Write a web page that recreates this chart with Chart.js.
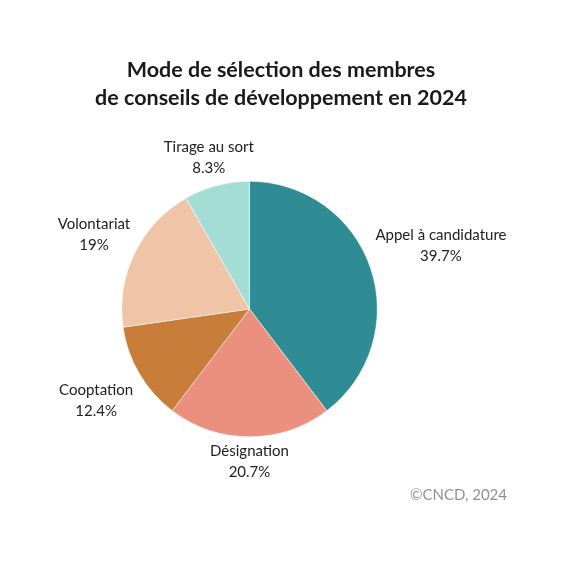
<!DOCTYPE html>
<html>
<head>
<meta charset="utf-8">
<script src="https://cdn.jsdelivr.net/npm/chart.js@4"></script>
<style>
    html, body { margin: 0; padding: 0; background: #ffffff; }
    #wrap { width: 563px; height: 563px; }
</style>
</head>
<body>
<div id="wrap"><canvas id="pieChart" width="563" height="563"></canvas></div>
<script>
const labels = ["Appel à candidature", "Désignation", "Cooptation", "Volontariat", "Tirage au sort"];
const percents = [39.7, 20.7, 12.4, 19, 8.3];
const colors = ["#308c94", "#eb8f7e", "#c97d3a", "#f0c5a7", "#a3ddd6"];
const titleLines = ["Mode de sélection des membres", "de conseils de développement en 2024"];
const sourceText = "©CNCD, 2024";

// distance from the pie centre to each label centre
const labelDistance = [202, 151, 178, 173, 158];

/**
 *
 */
const textPlugin = {
    id: "textPlugin",
    afterDraw(chart) {
        const ctx = chart.ctx;
        ctx.save();

        ctx.fillStyle = "#1a1a1a";
        ctx.textAlign = "center";
        ctx.textBaseline = "middle";
        ctx.font = "bold 21.5px Lato";
        ctx.fillText(titleLines[0], 281, 70);
        ctx.fillText(titleLines[1], 281, 98);

        const arcs = chart.getDatasetMeta(0).data;
        ctx.font = "15px Lato";
        ctx.fillStyle = "#222222";
        for (let i = 0; i < arcs.length; i++) {
            const arc = arcs[i];
            const mid = (arc.startAngle + arc.endAngle) / 2;
            const d = labelDistance[i];
            const x = arc.x + Math.cos(mid) * d;
            const y = arc.y + Math.sin(mid) * d;
            ctx.fillText(labels[i], x, y - 9);
            ctx.fillText(percents[i] + "%", x, y + 12);
        }

        ctx.font = "15px Lato";
        ctx.fillStyle = "#909090";
        ctx.textAlign = "right";
        ctx.fillText(sourceText, 507, 495);
        ctx.restore();
    },
};

const data = {
    labels: labels,
    datasets: [
        {
            data: percents,
            backgroundColor: colors,
            borderColor: "#ffffff",
            borderWidth: 0.5,
        },
    ],
};

const config = {
    type: "pie",
    data: data,
    options: {
        responsive: false,
        animation: false,
        layout: {
            padding: { left: 121, right: 185, top: 181, bottom: 126 },
        },
        plugins: {
            legend: { display: false },
            tooltip: { enabled: false },
        },
    },
    plugins: [textPlugin],
};

new Chart(document.getElementById("pieChart"), config);
</script>
</body>
</html>
